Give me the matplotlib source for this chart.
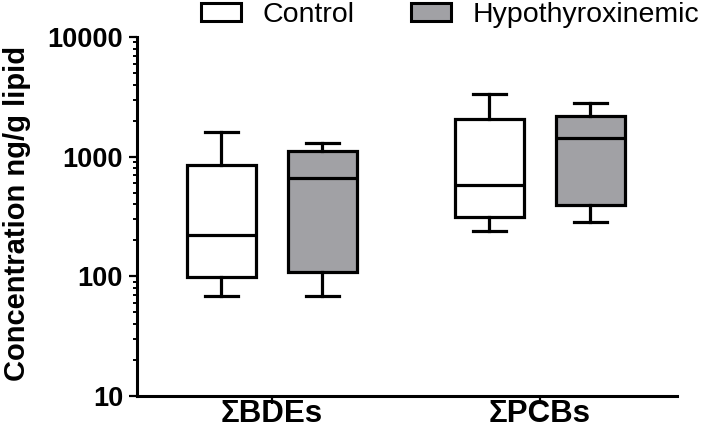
import matplotlib
matplotlib.use("Agg")
import matplotlib.pyplot as plt
from matplotlib.patches import Patch
from matplotlib.ticker import LogLocator, NullFormatter, FixedLocator

plt.rcParams['font.family'] = ['Liberation Sans', 'DejaVu Sans']

categories = ["\u03a3BDEs", "\u03a3PCBs"]
series = ["Control", "Hypothyroxinemic"]
# five-number summaries: whislo, q1, median, q3, whishi
control_lo = [68, 237]
control_q1 = [99, 316]
control_med = [223, 575]
control_q3 = [846, 2055]
control_hi = [1600, 3330]
hypo_lo = [68, 282]
hypo_q1 = [109, 391]
hypo_med = [658, 1425]
hypo_q3 = [1109, 2178]
hypo_hi = [1294, 2800]
y_ticks = [10, 100, 1000, 10000]
y_tick_labels = ["10", "100", "1000", "10000"]

fig = plt.figure(figsize=(7.08, 4.36), dpi=100)
ax = fig.add_axes([137/708, 1-396/436, 540/708, 359/436])

colors = ["white", "#a1a1a5"]
offsets = [-0.19, 0.187]
lw = 2.3

groups = [
    (control_lo, control_q1, control_med, control_q3, control_hi),
    (hypo_lo, hypo_q1, hypo_med, hypo_q3, hypo_hi),
]
for s, (lo, q1, med, q3, hi) in enumerate(groups):
    stats = []
    for i in range(len(categories)):
        stats.append(dict(whislo=lo[i], q1=q1[i], med=med[i], q3=q3[i], whishi=hi[i], fliers=[]))
    positions = [i + offsets[s] for i in range(len(categories))]
    ax.bxp(stats, positions=positions, widths=0.257, capwidths=0.123,
           patch_artist=True, showfliers=False, manage_ticks=False,
           boxprops=dict(facecolor=colors[s], edgecolor="black", linewidth=lw),
           medianprops=dict(color="black", linewidth=lw, solid_capstyle="butt"),
           whiskerprops=dict(color="black", linewidth=lw),
           capprops=dict(color="black", linewidth=lw))

ax.set_yscale("log")
ax.set_ylim(10, 10000)
ax.set_xlim(-0.504, 1.511)
ax.yaxis.set_major_locator(FixedLocator(y_ticks))
ax.set_yticklabels(y_tick_labels)
ax.yaxis.set_minor_locator(LogLocator(base=10, subs=range(2, 10), numticks=20))
ax.yaxis.set_minor_formatter(NullFormatter())
ax.set_xticks(range(len(categories)))
ax.set_xticklabels(categories)

for sp in ["top", "right"]:
    ax.spines[sp].set_visible(False)
for sp in ["left", "bottom"]:
    ax.spines[sp].set_linewidth(2.2)

ax.tick_params(axis="y", which="major", length=6, width=1.6, pad=4, labelsize=19.5)
ax.tick_params(axis="y", which="minor", length=3.2, width=1.4)
ax.tick_params(axis="x", which="major", length=6, width=1.6, pad=-3.5, labelsize=22.5)
for t in ax.get_yticklabels() + ax.get_xticklabels():
    t.set_fontweight("bold")

fig.text(17/708, 1-213/436, "Concentration ng/g lipid", rotation=90,
         ha="center", va="center", fontsize=21, fontweight="bold")

handles = [Patch(facecolor=colors[i], edgecolor="black", linewidth=2.2, label=series[i])
           for i in range(len(series))]
fig.legend(handles=handles, loc="center left", bbox_to_anchor=(201/708, 1-15/436),
           ncol=2, frameon=False, fontsize=20.5, handlelength=1.4, handleheight=0.6,
           handletextpad=0.76, columnspacing=2.0, borderpad=0, borderaxespad=0)

fig.savefig("out.png", dpi=100)
